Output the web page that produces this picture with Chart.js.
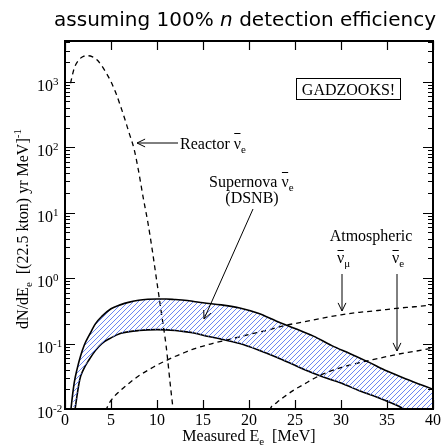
<!DOCTYPE html>
<html>
<head>
<meta charset="utf-8">
<script src="https://cdn.jsdelivr.net/npm/chart.js@4.4.1/dist/chart.umd.min.js"></script>
<style>
  html, body { margin: 0; padding: 0; background: #fff; }
</style>
</head>
<body>
<canvas id="chart" width="443" height="446"></canvas>
<script>
// values (E in MeV, rate per MeV)
var reactorE = [0.6, 1, 1.5, 2, 2.5, 3, 3.5, 4, 4.5, 5, 5.5, 6, 6.5, 7, 7.5, 8, 8.5, 9, 9.5, 10, 10.5, 11, 11.5, 12];
var reactorN = [950, 1600, 2150, 2450, 2500, 2400, 2150, 1750, 1350, 1000, 690, 440, 270, 160, 95, 43, 17, 7.2, 2.6, 0.85, 0.28, 0.09, 0.02, 0.005];

var dsnbHighE = [0.5, 0.65, 1, 1.3, 1.7, 2.1, 2.7, 3.3, 4, 5, 6, 7, 8, 9, 10, 11, 12, 13, 14, 15, 17, 19, 21, 23, 25, 27, 29, 31, 33, 35, 37, 40];
var dsnbHighN = [0.006, 0.01, 0.025, 0.04, 0.065, 0.095, 0.14, 0.2, 0.26, 0.34, 0.39, 0.43, 0.46, 0.475, 0.48, 0.48, 0.47, 0.46, 0.44, 0.42, 0.39, 0.35, 0.29, 0.22, 0.17, 0.13, 0.093, 0.07, 0.052, 0.038, 0.029, 0.02];

var dsnbLowE = [0.9, 1.1, 1.6, 2, 2.6, 3.3, 4, 5, 6, 7, 8, 9, 10, 11, 12, 13, 14, 15.6, 17, 19, 21, 23, 24.5, 26, 28, 30, 32, 34, 36, 37, 38, 40];
var dsnbLowN = [0.006, 0.01, 0.028, 0.04, 0.056, 0.078, 0.1, 0.122, 0.142, 0.152, 0.158, 0.162, 0.163, 0.162, 0.158, 0.152, 0.145, 0.128, 0.117, 0.1, 0.08, 0.062, 0.05, 0.04, 0.031, 0.025, 0.019, 0.015, 0.0115, 0.0098, 0.0085, 0.0065];

var atmMuE = [4.0, 4.5, 5, 6, 7, 8, 9, 10, 11, 12, 13, 14, 16, 18, 20, 22, 24, 26, 28, 30, 32, 34, 36, 38, 40];
var atmMuN = [0.007, 0.01, 0.0135, 0.019, 0.025, 0.032, 0.039, 0.047, 0.055, 0.064, 0.073, 0.083, 0.1, 0.117, 0.138, 0.16, 0.19, 0.215, 0.245, 0.275, 0.3, 0.32, 0.345, 0.365, 0.39];

var atmEE = [22.0, 22.3, 23, 24, 25, 26, 27, 28, 30, 32, 34, 36, 38, 40];
var atmEN = [0.007, 0.01, 0.0125, 0.016, 0.02, 0.024, 0.029, 0.034, 0.043, 0.051, 0.059, 0.068, 0.076, 0.085];

var energyTicks = [0, 5, 10, 15, 20, 25, 30, 35, 40];
var decades = [-2, -1, 0, 1, 2, 3];

var serif = 'Liberation Serif';

function pts(xs, ys) {
  return xs.map(function (x, i) { return { x: x, y: ys[i] }; });
}

// blue hatch for the DSNB band, "/" lines every 5px
var hatch = (function () {
  var n = 15, step = 5;
  var c = document.createElement('canvas');
  c.width = n; c.height = n;
  var g = c.getContext('2d');
  g.strokeStyle = 'rgb(90,120,240)';
  g.lineWidth = 0.9;
  g.beginPath();
  for (var k = -n; k <= 3 * n; k += step) {
    // line x + y = k
    g.moveTo(k - 2 * n, 2 * n);
    g.lineTo(k + n, -n);
  }
  g.stroke();
  return g.createPattern(c, 'repeat');
})();

function rich(ctx, parts, x, y, align) {
  var w = 0;
  parts.forEach(function (p) {
    ctx.font = (p.it ? 'italic ' : '') + p.size + 'px ' + (p.fam || serif);
    p.w = ctx.measureText(p.t).width;
    w += p.w;
  });
  var cx = align === 'center' ? x - w / 2 : (align === 'right' ? x - w : x);
  ctx.textAlign = 'left';
  ctx.textBaseline = 'alphabetic';
  parts.forEach(function (p) {
    ctx.font = (p.it ? 'italic ' : '') + p.size + 'px ' + (p.fam || serif);
    ctx.fillText(p.t, cx, y + (p.dy || 0));
    if (p.bar) {
      ctx.beginPath();
      ctx.lineWidth = 1;
      ctx.moveTo(cx + 0.5, Math.round(y - p.bar) + 0.5);
      ctx.lineTo(cx + p.w - 0.5, Math.round(y - p.bar) + 0.5);
      ctx.stroke();
    }
    cx += p.w;
  });
}

function arrow(ctx, x1, y1, x2, y2) {
  var ang = Math.atan2(y2 - y1, x2 - x1), L = 9, s = 0.45;
  ctx.beginPath();
  ctx.moveTo(x1, y1); ctx.lineTo(x2, y2);
  ctx.moveTo(x2 - L * Math.cos(ang - s), y2 - L * Math.sin(ang - s));
  ctx.lineTo(x2, y2);
  ctx.lineTo(x2 - L * Math.cos(ang + s), y2 - L * Math.sin(ang + s));
  ctx.stroke();
}

var decor = {
  id: 'decor',
  afterDraw: function (chart) {
    var ctx = chart.ctx, a = chart.chartArea;
    var xs = chart.scales.x, ys = chart.scales.y;
    ctx.save();
    ctx.fillStyle = '#000';
    ctx.strokeStyle = '#000';

    // ticks, inward on all sides
    ctx.lineWidth = 1.2;
    ctx.beginPath();
    energyTicks.forEach(function (v) {
      var px = Math.round(xs.getPixelForValue(v)) + 0.5;
      ctx.moveTo(px, a.bottom); ctx.lineTo(px, a.bottom - 9);
      ctx.moveTo(px, a.top); ctx.lineTo(px, a.top + 9);
    });
    decades.forEach(function (d) {
      for (var k = 1; k <= 9; k++) {
        var v = k * Math.pow(10, d);
        if (v > ys.max) break;
        var py = Math.round(ys.getPixelForValue(v)) + 0.5;
        var len = k === 1 ? 10 : 5;
        ctx.moveTo(a.left, py); ctx.lineTo(a.left + len, py);
        ctx.moveTo(a.right, py); ctx.lineTo(a.right - len, py);
      }
    });
    ctx.stroke();

    // frame
    ctx.lineWidth = 2;
    ctx.strokeRect(a.left, a.top, a.right - a.left, a.bottom - a.top);

    // x tick labels
    ctx.font = '16px ' + serif;
    ctx.textAlign = 'center';
    ctx.textBaseline = 'alphabetic';
    energyTicks.forEach(function (v) {
      ctx.fillText(String(v), xs.getPixelForValue(v), a.bottom + 16);
    });

    // y tick labels 10^n
    decades.forEach(function (d) {
      var py = ys.getPixelForValue(Math.pow(10, d));
      ctx.font = '16px ' + serif;
      ctx.textAlign = 'right';
      ctx.fillText('10', 53, py + 9);
      ctx.font = '11px ' + serif;
      ctx.textAlign = 'left';
      ctx.fillText(String(d), 53, py + 3);
    });

    // axis titles
    rich(ctx, [
      { t: 'Measured E', size: 16 },
      { t: 'e', size: 11, dy: 4 },
      { t: '  [MeV]', size: 16 }
    ], (a.left + a.right) / 2, 441, 'center');

    ctx.save();
    ctx.translate(28, 229);
    ctx.rotate(-Math.PI / 2);
    rich(ctx, [
      { t: 'dN/dE', size: 16 },
      { t: 'e', size: 11, dy: 4 },
      { t: '  [(22.5 kton) yr MeV]', size: 16 },
      { t: '-1', size: 11, dy: -7 }
    ], 0, 0, 'center');
    ctx.restore();

    // title
    rich(ctx, [
      { t: 'assuming 100% ', size: 20, fam: 'DejaVu Sans' },
      { t: 'n', size: 20, fam: 'DejaVu Sans', it: true },
      { t: ' detection efficiency', size: 20, fam: 'DejaVu Sans' }
    ], 245, 26, 'center');

    // GADZOOKS! box
    ctx.lineWidth = 1;
    ctx.strokeRect(296.5, 78.5, 104, 21);
    ctx.font = '16px ' + serif;
    ctx.textAlign = 'center';
    ctx.fillText('GADZOOKS!', 348.5, 95);

    // reactor label
    ctx.lineWidth = 1;
    arrow(ctx, 178, 143, 137, 143);
    rich(ctx, [
      { t: 'Reactor ', size: 16 },
      { t: '\u03bd', size: 16, bar: 16 },
      { t: 'e', size: 11, dy: 4 }
    ], 180, 149, 'left');

    // supernova label
    rich(ctx, [
      { t: 'Supernova ', size: 16 },
      { t: '\u03bd', size: 16, bar: 15 },
      { t: 'e', size: 11, dy: 4 }
    ], 209, 187, 'left');
    ctx.font = '16px ' + serif;
    ctx.textAlign = 'center';
    ctx.fillText('(DSNB)', 252, 203);
    ctx.lineWidth = 1;
    arrow(ctx, 253, 209, 204, 319);

    // atmospheric labels
    ctx.font = '16px ' + serif;
    ctx.textAlign = 'center';
    ctx.fillText('Atmospheric', 371, 241);
    rich(ctx, [
      { t: '\u03bd', size: 16, bar: 13 },
      { t: '\u03bc', size: 11, dy: 4 }
    ], 337, 263, 'left');
    rich(ctx, [
      { t: '\u03bd', size: 16, bar: 13 },
      { t: 'e', size: 11, dy: 4 }
    ], 392, 263, 'left');
    ctx.lineWidth = 1;
    arrow(ctx, 342, 274, 342, 311);
    arrow(ctx, 397, 274, 397, 351);

    ctx.restore();
  }
};

var dash = [5, 4];

new Chart(document.getElementById('chart'), {
  type: 'line',
  data: {
    datasets: [
      {
        data: pts(dsnbHighE, dsnbHighN),
        borderColor: '#000', borderWidth: 1.6,
        backgroundColor: hatch, fill: '+1'
      },
      {
        data: pts(dsnbLowE, dsnbLowN),
        borderColor: '#000', borderWidth: 1.6, fill: false
      },
      {
        data: pts(reactorE, reactorN),
        borderColor: '#000', borderWidth: 1.3, borderDash: dash, fill: false
      },
      {
        data: pts(atmMuE, atmMuN),
        borderColor: '#000', borderWidth: 1.3, borderDash: dash, fill: false
      },
      {
        data: pts(atmEE, atmEN),
        borderColor: '#000', borderWidth: 1.3, borderDash: dash, fill: false
      }
    ]
  },
  options: {
    responsive: false,
    animation: false,
    events: [],
    devicePixelRatio: 1,
    layout: { padding: { left: 65, right: 10, top: 41, bottom: 37 } },
    elements: {
      point: { radius: 0 },
      line: { cubicInterpolationMode: 'monotone' }
    },
    scales: {
      x: { type: 'linear', min: 0, max: 40, display: false },
      y: { type: 'logarithmic', min: 0.01, max: 4200, display: false }
    },
    plugins: {
      legend: { display: false },
      tooltip: { enabled: false },
      title: { display: false }
    }
  },
  plugins: [decor]
});
</script>
</body>
</html>
